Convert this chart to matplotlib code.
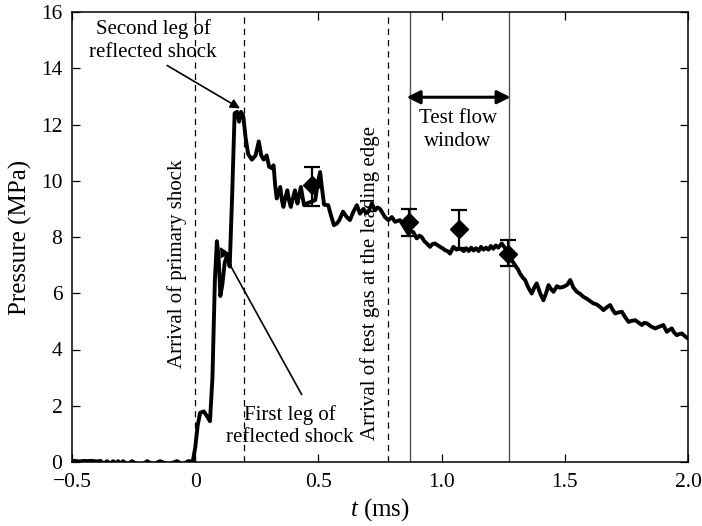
import matplotlib
matplotlib.use("Agg")
import matplotlib.pyplot as plt

plt.rcParams["font.family"] = ["Liberation Serif", "DejaVu Serif"]
plt.rcParams["mathtext.fontset"] = "custom"
plt.rcParams["mathtext.rm"] = "Liberation Serif"
plt.rcParams["mathtext.it"] = "Liberation Serif:italic"

# Pressure trace (time in ms, pressure in MPa)
t_trace = [
    -0.50, -0.49, -0.47, -0.45, -0.44, -0.42, -0.40, -0.385, -0.37, -0.358,
    -0.345, -0.333, -0.32, -0.313, -0.30, -0.293, -0.275, -0.256, -0.235,
    -0.215, -0.195, -0.17, -0.143, -0.11, -0.074, -0.05, -0.029, -0.01,
    0.0, 0.01, 0.02, 0.035, 0.05, 0.06, 0.07, 0.08, 0.088, 0.095, 0.102,
    0.11, 0.12, 0.13, 0.14, 0.15, 0.16, 0.17, 0.178, 0.186, 0.195, 0.205,
    0.215, 0.23, 0.245, 0.258, 0.268, 0.278, 0.29, 0.30, 0.31, 0.318, 0.325,
    0.331, 0.338, 0.345, 0.352, 0.358, 0.366, 0.374, 0.381, 0.388, 0.397,
    0.405, 0.41, 0.415, 0.422, 0.429, 0.436, 0.442, 0.455, 0.47, 0.487,
    0.497, 0.507, 0.515, 0.523, 0.54, 0.55, 0.563, 0.575, 0.585, 0.60, 0.615,
    0.628, 0.642, 0.656, 0.669, 0.683, 0.693, 0.703, 0.717, 0.73, 0.74, 0.75,
    0.77, 0.784, 0.798, 0.811, 0.831, 0.852, 0.865, 0.875, 0.885, 0.899,
    0.91, 0.919, 0.93, 0.94, 0.953, 0.963, 0.973, 0.985, 0.994, 1.004,
    1.014, 1.024, 1.034, 1.048, 1.06, 1.075, 1.09, 1.10, 1.11, 1.12, 1.13,
    1.14, 1.15, 1.16, 1.17, 1.18, 1.19, 1.20, 1.21, 1.22, 1.23, 1.244,
    1.258, 1.27, 1.283, 1.298, 1.31, 1.318, 1.33, 1.339, 1.352, 1.366,
    1.376, 1.386, 1.40, 1.413, 1.424, 1.434, 1.444, 1.454, 1.468, 1.48,
    1.495, 1.51, 1.522, 1.535, 1.549, 1.562, 1.576, 1.59, 1.603, 1.616,
    1.63, 1.645, 1.657, 1.67, 1.684, 1.695, 1.705, 1.718, 1.732, 1.745,
    1.759, 1.772, 1.786, 1.80, 1.813, 1.823, 1.833, 1.85, 1.867, 1.88, 1.90,
    1.914, 1.925, 1.934, 1.944, 1.954, 1.965, 1.975, 1.988, 2.0,
]
p_trace = [
    0.03, 0.04, 0.02, 0.04, 0.03, 0.04, 0.02, 0.04, -0.06, 0.03,
    -0.06, 0.03, -0.06, 0.03, -0.06, 0.03, -0.09, 0.03, -0.09,
    -0.09, 0.03, -0.09, 0.03, -0.09, 0.03, -0.09, 0.03, 0.02,
    0.5, 1.3, 1.75, 1.8, 1.6, 1.45, 3.0, 6.5, 7.85, 7.3, 5.9,
    6.3, 7.1, 7.35, 6.95, 9.5, 12.4, 12.45, 12.1, 12.45, 12.3, 11.5,
    10.95, 10.75, 10.9, 11.4, 10.9, 10.75, 10.9, 10.5, 10.45, 10.55, 9.8,
    9.37, 9.6, 9.78, 9.3, 9.07, 9.4, 9.66, 9.3, 9.07, 9.4,
    9.66, 9.4, 9.19, 9.5, 9.78, 9.4, 9.13, 9.2, 9.25, 9.31,
    9.9, 10.31, 9.7, 9.15, 9.13, 8.8, 8.42, 8.48, 8.6, 8.9, 8.71,
    8.6, 8.9, 9.13, 8.83, 9.0, 8.85, 8.9, 9.19, 8.95, 9.05, 9.0,
    8.71, 8.6, 8.71, 8.54, 8.6, 8.3, 8.12, 8.2, 8.18, 7.95,
    8.05, 8.0, 7.85, 7.77, 7.65, 7.75, 7.77, 7.7, 7.65, 7.6,
    7.53, 7.5, 7.41, 7.65, 7.55, 7.59, 7.5, 7.6, 7.5, 7.62, 7.52,
    7.6, 7.5, 7.65, 7.55, 7.62, 7.55, 7.68, 7.58, 7.7, 7.62, 7.77,
    7.6, 7.4, 7.2, 7.0, 6.85, 6.7, 6.55, 6.47, 6.2, 5.99,
    6.2, 6.35, 6.0, 5.75, 6.0, 6.29, 6.15, 6.05, 6.25, 6.2,
    6.23, 6.3, 6.47, 6.2, 6.05, 5.98, 5.87, 5.8, 5.72, 5.64,
    5.6, 5.5, 5.4, 5.5, 5.58, 5.4, 5.28, 5.32, 5.34, 5.15,
    4.98, 5.02, 5.04, 4.95, 4.87, 4.95, 4.93, 4.82, 4.75, 4.8, 4.87,
    4.63, 4.7, 4.75, 4.6, 4.51, 4.55, 4.57, 4.47, 4.39,
]

# Computed pressures with uncertainty range
t_calc = [0.473, 0.868, 1.072, 1.271]
p_calc = [9.84, 8.54, 8.28, 7.41]
p_calc_hi = [10.5, 9.0, 8.95, 7.89]
p_calc_lo = [9.1, 8.03, 7.6, 6.97]

# Event markers (ms)
t_dashed = [0.0, 0.2, 0.784]
t_window = [0.873, 1.274]

x_ticks = [-0.5, 0.0, 0.5, 1.0, 1.5, 2.0]
x_ticklabels = ["\u22120.5", "0", "0.5", "1.0", "1.5", "2.0"]
y_ticks = [0, 2, 4, 6, 8, 10, 12, 14, 16]

fig = plt.figure(figsize=(7.02, 5.26), dpi=100)
ax = fig.add_axes([72 / 702, 64 / 526, 616 / 702, 450 / 526])

for tv in t_dashed:
    ax.axvline(tv, color="black", lw=0.9, ls=(0, (5, 4)), zorder=1)
for tv in t_window:
    ax.axvline(tv, color="#555555", lw=1.0, zorder=1)

ax.plot(t_trace, p_trace, color="black", lw=2.8, zorder=3,
        solid_joinstyle="round", solid_capstyle="round")

err_lo = [p - lo for p, lo in zip(p_calc, p_calc_lo)]
err_hi = [hi - p for p, hi in zip(p_calc, p_calc_hi)]
ax.errorbar(t_calc, p_calc, yerr=[err_lo, err_hi], fmt="D", color="black",
            ms=9, elinewidth=1.6, capsize=6, capthick=1.6, zorder=4)

fs = 15
ls = 1.25
ax.text(-0.171, 14.98, "Second leg of\nreflected shock", ha="center", va="center",
        fontsize=fs, linespacing=ls)
ax.annotate("", xy=(0.182, 12.57), xytext=(-0.114, 14.1),
            arrowprops=dict(arrowstyle="-|>", color="black", lw=1.2,
                            mutation_scale=14, shrinkA=0, shrinkB=0))

ax.text(0.385, 1.28, "First leg of\nreflected shock", ha="center", va="center",
        fontsize=fs, linespacing=ls)
ax.annotate("", xy=(0.101, 7.65), xytext=(0.432, 2.40),
            arrowprops=dict(arrowstyle="-|>", color="black", lw=1.2,
                            mutation_scale=14, shrinkA=0, shrinkB=0))

ax.annotate("", xy=(0.858, 12.97), xytext=(1.28, 12.97),
            arrowprops=dict(arrowstyle="<|-|>", color="black", lw=2.2,
                            mutation_scale=20, shrinkA=0, shrinkB=0))
ax.text(1.067, 11.8, "Test flow\nwindow", ha="center", va="center",
        fontsize=fs, linespacing=ls)

ax.text(-0.073, 3.34, "Arrival of primary shock", rotation=90,
        ha="center", va="bottom", fontsize=fs)
ax.text(0.709, 0.78, "Arrival of test gas at the leading edge", rotation=90,
        ha="center", va="bottom", fontsize=fs)

ax.set_xlim(-0.5, 2.0)
ax.set_ylim(0, 16)
ax.set_xticks(x_ticks)
ax.set_xticklabels(x_ticklabels)
ax.set_yticks(y_ticks)
ax.tick_params(direction="in", length=6, width=0.9, labelsize=15.5,
               top=True, right=True)
ax.tick_params(axis="x", pad=8)
ax.tick_params(axis="y", pad=7)
for sp in ax.spines.values():
    sp.set_linewidth(1.1)
    sp.set_zorder(5)

ax.set_xlabel("$t$ (ms)", fontsize=18, labelpad=3)
ax.set_ylabel("Pressure (MPa)", fontsize=18, labelpad=6)

fig.savefig("out.png", dpi=100)
